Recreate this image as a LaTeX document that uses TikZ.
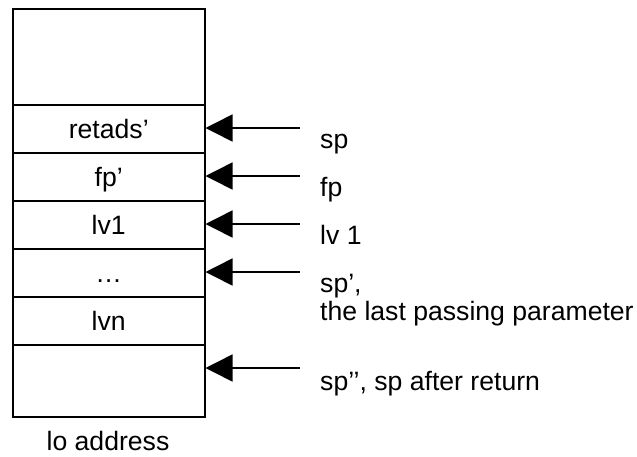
\documentclass[tikz,border=0pt]{standalone}
\usepackage{fontspec}
\setmainfont{Liberation Sans}
\usetikzlibrary{arrows.meta}
\begin{document}
\begin{tikzpicture}[x=1pt,y=-1pt,
  every node/.style={font=\fontsize{26.6}{30}\selectfont},
  cell/.style={draw,line width=1.5pt,minimum width=192pt,inner sep=0pt,anchor=north west,text height=19pt,text depth=0pt},
  ptr/.style={line width=1.5pt,-{Triangle[length=27pt,width=27pt]}},
  lbl/.style={anchor=base west,inner sep=0pt}]
\useasboundingbox (0,0) rectangle (637,456);
\node[cell,minimum height=96pt] (top) at (12,8) {};
\node[cell,minimum height=48pt] (r1) at (12,104) {retads’};
\node[cell,minimum height=48pt] (r2) at (12,152) {fp’};
\node[cell,minimum height=48pt] (r3) at (12,200) {lv1};
\node[cell,minimum height=48pt] (r4) at (12,248) {…};
\node[cell,minimum height=48pt] (r5) at (12,296) {lvn};
\node[cell,minimum height=72pt] (bot) at (12,344) {};
\node[anchor=base,inner sep=0pt] (lo) at (108,450) {lo address};
\coordinate (a1) at (300,128);
\coordinate (a2) at (300,176);
\coordinate (a3) at (300,224);
\coordinate (a4) at (300,272);
\coordinate (a5) at (300,368);
\draw[ptr] (a1) -- (a1 -| r1.east);
\draw[ptr] (a2) -- (a2 -| r2.east);
\draw[ptr] (a3) -- (a3 -| r3.east);
\draw[ptr] (a4) -- (a4 -| r4.east);
\draw[ptr] (a5) -- (a5 -| bot.east);
\node[lbl] (l1) at (320,148) {sp};
\node[lbl] (l2) at (320,196) {fp};
\node[lbl] (l3) at (320,244) {lv 1};
\node[lbl] (l4) at (320,292) {sp’,};
\node[lbl] (l4b) at (320,320) {the last passing parameter};
\node[lbl] (l5) at (320,390) {sp’’, sp after return};
\end{tikzpicture}
\end{document}
